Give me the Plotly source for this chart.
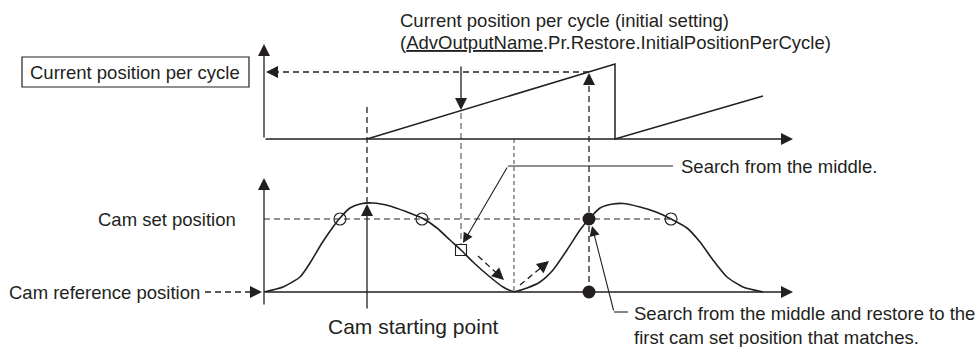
import plotly.graph_objects as go

INK = "#231f20"
GRAY = "#6d6e71"
FONT = "Liberation Sans, Arial, sans-serif"
W, H = 977, 347

# ---------------- data (diagram units: x = time, y = level on the drawing) -------------
# cam displacement curve (lower graph)
cam_t = [264, 283, 300, 310, 322, 333, 340, 350, 360, 373, 390, 407, 422, 437, 450,
         461, 473, 490, 503, 514, 527, 540, 553, 567, 580, 589, 600, 613, 623, 640,
         656, 671, 687, 700, 713, 727, 743, 763]
cam_v = [292, 287, 277, 263, 243, 227, 218, 208, 204, 203, 206, 212, 218, 228, 240,
         250, 262, 277, 287, 291.5, 288, 282, 270, 250, 230, 219, 208, 204, 203.5, 207,
         212, 219, 228, 242, 260, 277, 287, 292]

# current position per cycle (upper graph, sawtooth)
ramp_t = [367, 615, 615, 763]
ramp_v = [139, 64, 139, 96]

# levels
top_base, top_axis_tip = 139, 44
cam_ref_level, cam_set_level = 292, 219
axis_t0, axis_t_end = 264, 793
cur_pos_level = 72

# markers
open_circle_t = [340, 422, 671]
match_t = 589
start_t = 367
search_start_t, search_start_v = 461, 250
middle_t = 514

# texts
label_box = "Current position per cycle"
label_init = ["Current position per cycle (initial setting)",
              "(<u>AdvOutputName</u>.Pr.Restore.InitialPositionPerCycle)"]
label_set = "Cam set position"
label_ref = "Cam reference position"
label_start = "Cam starting point"
label_search = "Search from the middle."
label_restore = ["Search from the middle and restore to the",
                 "first cam set position that matches."]

fig = go.Figure()


def line(xs, ys, dash=None, color=INK, width=1.3):
    fig.add_trace(go.Scatter(x=xs, y=ys, mode="lines", hoverinfo="skip",
                             line=dict(color=color, width=width, dash=dash)))


def arrow(x0, y0, x1, y1, color=INK, width=1.3):
    fig.add_annotation(x=x1, y=y1, ax=x0, ay=y0, xref="x", yref="y", axref="x", ayref="y",
                       text="", showarrow=True, arrowhead=2, arrowsize=1.85,
                       arrowwidth=width, arrowcolor=color, standoff=0)


def dashed_arrow(x0, y0, x1, y1, dash="6px,4px", color=INK):
    dx, dy = x1 - x0, y1 - y0
    d = (dx * dx + dy * dy) ** 0.5
    ux, uy = dx / d, dy / d
    line([x0, x1 - ux * 6], [y0, y1 - uy * 6], dash=dash, color=color)
    arrow(x1 - ux * 9, y1 - uy * 9, x1, y1, color=color)


# ---- axes ----
arrow(axis_t0, top_base, axis_t0, top_axis_tip)
arrow(axis_t0, top_base, axis_t_end, top_base)
arrow(axis_t0, 306, axis_t0, 178)
arrow(axis_t0, cam_ref_level, axis_t_end, cam_ref_level)

# ---- guide lines ----
line([axis_t0, 671], [cam_set_level, cam_set_level], dash="6px,4px", color=GRAY)
line([start_t, start_t], [107, 203], dash="6px,4px")
line([search_start_t, search_start_t], [113, 245], dash="6px,4px", color=GRAY)
line([middle_t, middle_t], [top_base, cam_ref_level], dash="4px,3px", color=GRAY)
dashed_arrow(match_t, cam_ref_level, match_t, 73)
dashed_arrow(match_t, cur_pos_level, 266, cur_pos_level)
dashed_arrow(205, cam_ref_level, 262, cam_ref_level)
dashed_arrow(478, 256, 504, 280)
dashed_arrow(520, 285, 549, 261)

# ---- curves ----
line(ramp_t, ramp_v, width=1.5)
fig.add_trace(go.Scatter(x=cam_t, y=cam_v, mode="lines", hoverinfo="skip",
                         line=dict(color=INK, width=1.6, shape="spline", smoothing=0.6)))

# ---- markers ----
fig.add_trace(go.Scatter(x=open_circle_t, y=[cam_set_level] * 3, mode="markers",
                         hoverinfo="skip",
                         marker=dict(symbol="circle-open", size=12, color=INK,
                                     line=dict(width=1.1, color=INK))))
fig.add_trace(go.Scatter(x=[match_t, match_t], y=[cam_set_level, cam_ref_level],
                         mode="markers", hoverinfo="skip",
                         marker=dict(symbol="circle", size=13, color=INK)))
fig.add_trace(go.Scatter(x=[search_start_t], y=[search_start_v], mode="markers",
                         hoverinfo="skip",
                         marker=dict(symbol="square-open", size=11, color=INK,
                                     line=dict(width=1.1, color=INK))))

# ---- callouts ----
arrow(461, 65, 461, 110)
arrow(start_t, 310, start_t, 204)
line([673, 508], [166, 166], width=1.1)
arrow(508, 166, 463, 243, width=1.1)
line([628, 614], [312, 312], width=1.1)
arrow(614, 312, 592, 226, width=1.1)

fig.add_shape(type="rect", x0=22, x1=249, y0=57, y1=87, xref="x", yref="y",
              line=dict(color=INK, width=1.2))


def text(x, y, s, anchor="left", size=18.5):
    fig.add_annotation(x=x, y=y, xref="x", yref="y", text=s, showarrow=False,
                       xanchor=anchor, yanchor="middle", align="left",
                       font=dict(family=FONT, size=size, color=INK))


text(28, cur_pos_level, label_box)
text(398, 20, label_init[0])
text(398, 42, label_init[1])
text(238, cam_set_level, label_set, anchor="right")
text(7, cam_ref_level, label_ref)
text(326, 326, label_start, size=21)
text(679, 166, label_search)
text(632, 313, label_restore[0])
text(632, 337, label_restore[1])

fig.update_layout(width=W, height=H, margin=dict(l=0, r=0, t=0, b=0),
                  paper_bgcolor="white", plot_bgcolor="white", showlegend=False)
fig.update_xaxes(range=[0, W], visible=False, fixedrange=True)
fig.update_yaxes(range=[H, 0], visible=False, fixedrange=True)

fig.write_html("out.html", config={"displayModeBar": False},
               post_script="document.body.style.margin='0';"
                           "document.body.style.padding='0';"
                           "document.body.style.overflow='hidden';")
